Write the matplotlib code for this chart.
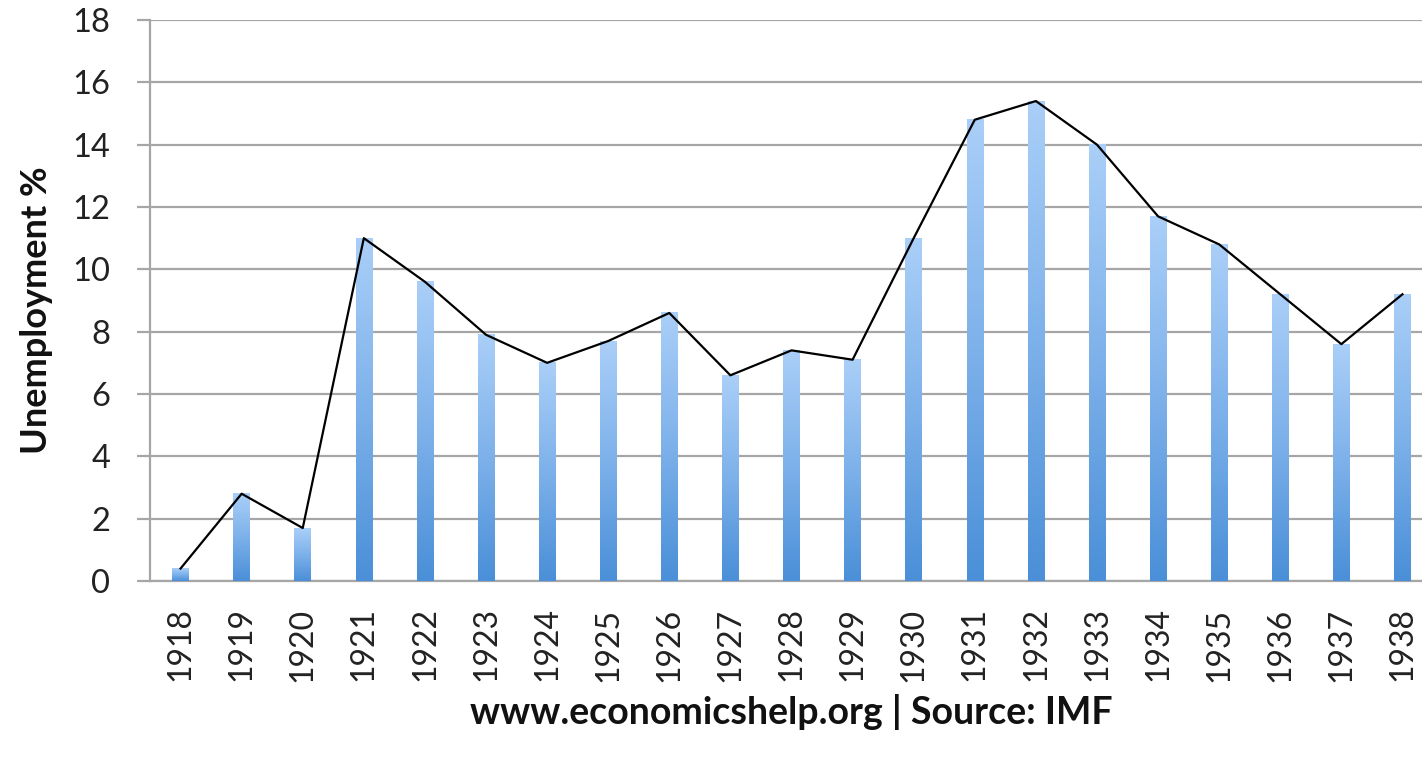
import numpy as np
import matplotlib
matplotlib.use("Agg")
import matplotlib.pyplot as plt
from matplotlib.colors import LinearSegmentedColormap

years = [str(y) for y in range(1918, 1939)]
unemployment = [0.4, 2.8, 1.7, 11.0, 9.6, 7.9, 7.0, 7.7, 8.6, 6.6, 7.4, 7.1,
                11.0, 14.8, 15.4, 14.0, 11.7, 10.8, 9.2, 7.6, 9.2]
y_ticks = list(range(0, 19, 2))
y_label = "Unemployment %"
x_label = "www.economicshelp.org | Source: IMF"

plt.rcParams['font.family'] = ['Lato', 'DejaVu Sans']

W, H = 1422, 758
fig = plt.figure(figsize=(W / 100, H / 100), dpi=100)
ax_left, ax_right, ax_top, ax_bottom = 150, 1433, 20, 581
ax = fig.add_axes([ax_left / W, 1 - ax_bottom / H, (ax_right - ax_left) / W, (ax_bottom - ax_top) / H])

x = np.arange(len(years))
bar_w = 0.27
cmap = LinearSegmentedColormap.from_list("g", ["#4a8fd8", "#7db1ea", "#aacff8"])
grad = np.linspace(0, 1, 256).reshape(-1, 1)

bars = ax.bar(x, unemployment, width=bar_w, color="none", zorder=3)
for b in bars:
    x0 = b.get_x()
    h = b.get_height()
    ax.imshow(grad, extent=[x0, x0 + bar_w, 0, h], origin="lower", aspect="auto",
              cmap=cmap, zorder=3, interpolation="bilinear")

ax.plot(x, unemployment, color="black", lw=1.6, zorder=4)

ax.set_xlim(-0.5, len(years) - 0.5)
ax.set_ylim(0, 18)
ax.set_yticks(y_ticks)
ax.set_xticks(x)
ax.set_xticklabels(years, rotation=90)
ax.grid(axis="y", color="#a6a6a6", lw=1.6, zorder=0)
ax.set_axisbelow(True)

for s in ["top", "right"]:
    ax.spines[s].set_visible(False)
for s in ["left", "bottom"]:
    ax.spines[s].set_color("#a6a6a6")
    ax.spines[s].set_linewidth(1.6)

ax.tick_params(axis="y", length=9.5, width=1.6, color="#a6a6a6", pad=19, labelsize=23.5, labelcolor="#222222")
ax.tick_params(axis="x", length=0, pad=19, labelsize=23, labelcolor="#222222")

fig.text((ax_left + ax_right) / 2 / W, 1 - 712 / H, x_label, ha="center", va="center",
         fontsize=27, fontweight="bold", color="#111111")
fig.text(37 / W, 1 - 310 / H, y_label, ha="center", va="center", rotation=90,
         fontsize=26, fontweight="bold", color="#111111")

fig.savefig("out.png", dpi=100)
